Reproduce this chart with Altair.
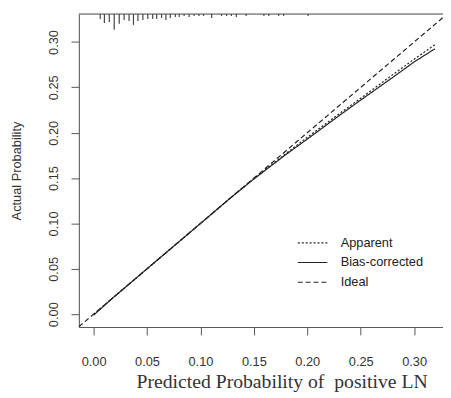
import altair as alt
import pandas as pd

# Calibration curves
pred = [0.0, 0.02, 0.05, 0.08, 0.10, 0.13, 0.15, 0.18, 0.20, 0.23, 0.25, 0.28, 0.30, 0.3194]
apparent = [0.0, 0.02, 0.05, 0.08, 0.10, 0.13, 0.1495, 0.177, 0.195, 0.221, 0.238, 0.264, 0.281, 0.297]
bias_corrected = [-0.001, 0.02, 0.05, 0.08, 0.10, 0.13, 0.149, 0.176, 0.193, 0.219, 0.236, 0.261, 0.278, 0.2925]
ideal_x = [-0.0138, 0.327]

# Distribution of predicted probabilities (spikes at top)
rug_x = [0.0062, 0.0101, 0.0147, 0.0193, 0.0240, 0.0286, 0.0332, 0.0373, 0.0415, 0.0461,
         0.0507, 0.0553, 0.0590, 0.0636, 0.0677, 0.0718, 0.0765, 0.0801, 0.0847, 0.0894,
         0.0940, 0.0986, 0.1029, 0.1105, 0.1197, 0.1244, 0.1290, 0.1336, 0.1428, 0.1594,
         0.1640, 0.1732, 0.1778, 0.2008]
rug_freq = [5, 9, 8, 16, 10, 6, 7, 11, 7, 6,
            5, 5, 5, 4, 6, 4, 3, 3, 2, 3,
            2, 2, 2, 4, 2, 2, 2, 3, 2, 2,
            2, 2, 2, 2]

series_names = ["Apparent", "Bias-corrected", "Ideal"]

X_DOM = [-0.0138, 0.327]
Y_DOM = [-0.0141, 0.3308]
SPIKE_UNIT = 1.0 / 922.0

rows = []
for x, y in zip(pred, apparent):
    rows.append({"x": x, "y": y, "series": "Apparent"})
for x, y in zip(pred, bias_corrected):
    rows.append({"x": x, "y": y, "series": "Bias-corrected"})
for x in ideal_x:
    rows.append({"x": x, "y": x, "series": "Ideal"})
lines_df = pd.DataFrame(rows)

rug_df = pd.DataFrame({
    "x": rug_x,
    "top": [Y_DOM[1]] * len(rug_x),
    "bottom": [Y_DOM[1] - f * SPIKE_UNIT for f in rug_freq],
})

AX = "#555555"
TXT = "#333333"

x_scale = alt.Scale(domain=X_DOM, nice=False, zero=False)
y_scale = alt.Scale(domain=Y_DOM, nice=False, zero=False)
ticks = [0.0, 0.05, 0.10, 0.15, 0.20, 0.25, 0.30]

x_axis = alt.Axis(values=ticks, format=".2f", grid=False, domainColor=AX, tickColor=AX,
                  tickSize=8, labelFont="Liberation Sans", labelFontSize=13, labelColor=TXT,
                  labelBaseline="middle", labelPadding=27, labelFlush=False,
                  title="Predicted Probability of\u00a0 positive LN", titleFont="Liberation Serif",
                  titleFontSize=20, titleFontWeight="normal", titleColor=TXT,
                  titleX=206, titleY=61, titleAlign="center", titleBaseline="alphabetic")
y_axis = alt.Axis(values=ticks, format=".2f", grid=False, domainColor=AX, tickColor=AX,
                  tickSize=8, labelFont="Liberation Sans", labelFontSize=13, labelColor=TXT,
                  labelAngle=270, labelAlign="center", labelBaseline="middle",
                  labelPadding=18, labelFlush=False,
                  title="Actual Probability", titleFont="Liberation Sans", titleFontSize=13,
                  titleFontWeight="normal", titleColor=TXT, titleAngle=270,
                  titleX=-63, titleY=159, titleAlign="center", titleBaseline="middle")

lines = alt.Chart(lines_df).mark_line(color="#222222", strokeWidth=1.2, clip=True).encode(
    x=alt.X("x:Q", scale=x_scale, axis=x_axis),
    y=alt.Y("y:Q", scale=y_scale, axis=y_axis),
    strokeDash=alt.StrokeDash(
        "series:N",
        scale=alt.Scale(domain=series_names, range=[[2, 2], [1, 0], [5, 3]]),
        legend=alt.Legend(title=None, orient="none", legendX=229, legendY=224,
                          symbolType="M-2,0H2", symbolSize=225, symbolStrokeWidth=1.2,
                          symbolStrokeColor="#222222", labelFont="Liberation Sans",
                          labelFontSize=13, labelColor="#222222", rowPadding=4,
                          labelOffset=20),
    ),
    order=alt.Order("x:Q"),
)

rug = alt.Chart(rug_df).mark_rule(color="#444444", strokeWidth=1.2).encode(
    x=alt.X("x:Q", scale=x_scale),
    y=alt.Y("top:Q", scale=y_scale),
    y2="bottom:Q",
)

# top frame line
top_frame = alt.Chart(pd.DataFrame({"x": X_DOM})).mark_rule(color=AX, strokeWidth=1.2).encode(
    x=alt.X("min(x):Q", scale=x_scale),
    x2="max(x):Q",
    y=alt.value(0),
)

chart = (lines + rug + top_frame).properties(
    width=370, height=318,
    autosize=alt.AutoSizeParams(type="none"),
    padding={"left": 72, "top": 3, "right": 0, "bottom": 68},
).configure_view(strokeWidth=0).configure(background="white")

chart.save("out.html", embed_options={"renderer": "svg", "actions": False})
